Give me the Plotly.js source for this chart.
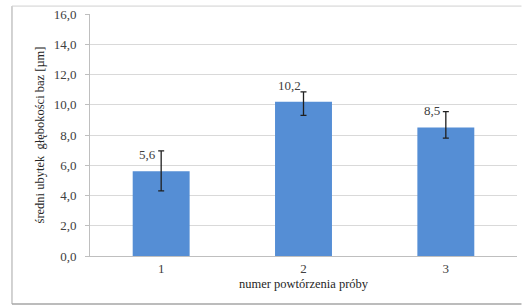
<!DOCTYPE html>
<html>
<head>
<meta charset="utf-8">
<script src="https://cdn.plot.ly/plotly-3.0.1.min.js"></script>
<style>html,body{margin:0;padding:0;background:#fff;}#chart{width:522px;height:307px;}</style>
</head>
<body>
<div id="chart"></div>
<script>
const categories = ['1', '2', '3'];
const values = [5.6, 10.2, 8.5];
const errPlus = [1.35, 0.65, 1.05];
const errMinus = [1.3, 0.9, 0.7];
const valueLabels = ['5,6', '10,2', '8,5'];
const yTickVals = [0, 2, 4, 6, 8, 10, 12, 14, 16];
const xTitle = 'numer powtórzenia próby';
const yTitle = 'średni ubytek  głębokości baz [µm]';

const font = '"Liberation Serif", "Times New Roman", serif';

const trace = {
  type: 'bar',
  x: categories,
  y: values,
  marker: {color: '#558ed5'},
  error_y: {
    type: 'data', symmetric: false,
    array: errPlus, arrayminus: errMinus,
    color: '#1f1f1f', thickness: 1.3, width: 3
  },
  hoverinfo: 'none'
};

const annotations = categories.map((c, i) => ({
  x: i, y: values[i], text: valueLabels[i],
  showarrow: false, xanchor: 'center', yanchor: 'bottom',
  xshift: -14, yshift: 7,
  font: {family: font, size: 13, color: '#404040'}
}));

const L = {x0: -0.1827, x1: 1.0105, y0: -0.1987, y1: 1.0327};
const shapes = [
  {type: 'line', xref: 'paper', yref: 'paper', x0: L.x0, x1: L.x0, y0: L.y0, y1: L.y1, line: {color: '#a6a6a6', width: 1}},
  {type: 'line', xref: 'paper', yref: 'paper', x0: L.x0, x1: L.x1, y0: L.y1, y1: L.y1, line: {color: '#d0d0d0', width: 1}},
  {type: 'line', xref: 'paper', yref: 'paper', x0: L.x0, x1: L.x1, y0: L.y0, y1: L.y0, line: {color: '#a6a6a6', width: 1.5}}
];

const layout = {
  width: 522, height: 307,
  margin: {l: 90, r: 5, t: 14, b: 51},
  paper_bgcolor: '#fff', plot_bgcolor: '#fff',
  separators: ', ',
  showlegend: false,
  bargap: 0.6,
  font: {family: font, size: 13, color: '#404040'},
  xaxis: {
    type: 'category',
    range: [-0.5, 2.5],
    showgrid: false,
    showline: true, linecolor: '#bfbfbf', linewidth: 1,
    ticks: '', tickfont: {family: font, size: 13, color: '#404040'},
    title: {text: xTitle, font: {family: font, size: 12.5, color: '#262626'}, standoff: 4},
    fixedrange: true
  },
  yaxis: {
    range: [0, 16],
    tickvals: yTickVals,
    tickformat: '.1f',
    showgrid: true, gridcolor: '#d9d9d9', gridwidth: 1,
    zeroline: false,
    showline: true, linecolor: '#bfbfbf', linewidth: 1,
    ticks: 'outside', ticklen: 4, tickcolor: '#bfbfbf',
    ticklabelstandoff: 6,
    tickfont: {family: font, size: 13, color: '#404040'},
    title: {text: yTitle, font: {family: font, size: 12.5, color: '#262626'}, standoff: 6},
    fixedrange: true
  },
  annotations: annotations,
  shapes: shapes
};

Plotly.newPlot('chart', [trace], layout, {displayModeBar: false, staticPlot: true});
</script>
</body>
</html>
